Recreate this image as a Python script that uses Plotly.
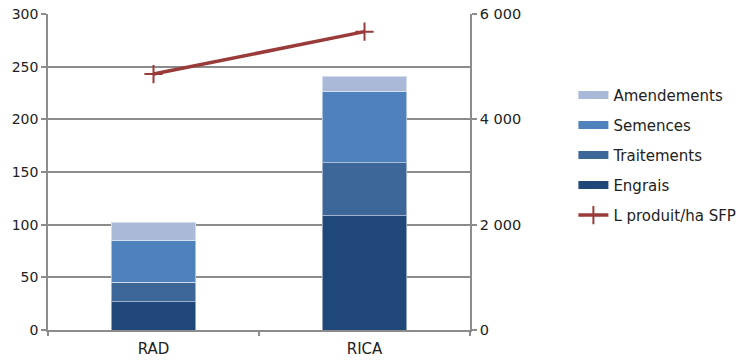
import plotly.graph_objects as go

categories = ["RAD", "RICA"]
engrais = [26.9, 108.5]
traitements = [18.4, 50.3]
semences = [40.1, 68.1]
amendements = [16.8, 14.1]
l_produit = [4860, 5665]

series = [
    ("Engrais", engrais, "#1F4878", 4),
    ("Traitements", traitements, "#3E6799", 3),
    ("Semences", semences, "#4F81BD", 2),
    ("Amendements", amendements, "#A9B9D7", 1),
]

font_family = "DejaVu Sans"
fig = go.Figure()
for name, vals, color, rank in series:
    fig.add_trace(go.Bar(
        x=categories, y=vals, name=name, marker_color=color,
        marker_line=dict(color="rgba(255,255,255,0.5)", width=1),
        showlegend=False,
    ))
    # legend entry drawn as a wide rectangle
    fig.add_trace(go.Scatter(
        x=[None], y=[None], name=name, mode="lines",
        line=dict(color=color, width=8),
        legendrank=rank, legendgroup=name, hoverinfo="skip",
    ))

fig.add_trace(go.Scatter(
    x=categories, y=l_produit, name="L produit/ha SFP", yaxis="y2",
    mode="lines+markers",
    line=dict(color="#993B3A", width=3.5),
    marker=dict(symbol="cross-thin", size=13, line=dict(color="#993B3A", width=2)),
    legendrank=5, legendgroup="line",
))

fig.update_layout(
    width=743, height=361,
    margin=dict(l=48, r=273, t=14, b=31, autoexpand=False),
    paper_bgcolor="white", plot_bgcolor="white",
    barmode="stack", bargap=0.6,
    separators=", ",
    font=dict(family=font_family, size=13, color="#222222"),
    showlegend=True,
    legend=dict(
        x=1.245, y=0.795, xanchor="left", yanchor="top",
        traceorder="grouped", tracegroupgap=7.5,
        font=dict(family=font_family, size=15, color="#222222"),
        itemwidth=30,
    ),
    xaxis=dict(
        type="category", range=[-0.5, 1.5], tickson="boundaries",
        ticks="outside", ticklen=4, tickcolor="#8C8C8C", tickwidth=1.5,
        showline=True, linecolor="#8C8C8C", linewidth=1.5,
        showgrid=False, tickfont=dict(size=15), automargin=False,
        ticklabelstandoff=4,
    ),
    yaxis=dict(
        range=[0, 300], dtick=50, ticks="outside", ticklen=5,
        tickcolor="#8C8C8C", tickwidth=1.5,
        showline=True, linecolor="#8C8C8C", linewidth=1.5,
        showgrid=True, gridcolor="#8C8C8C", gridwidth=1.5,
        zeroline=False, tickfont=dict(size=14), automargin=False,
    ),
    yaxis2=dict(
        range=[0, 6000], dtick=2000, overlaying="y", side="right",
        ticks="outside", ticklen=5, tickcolor="#8C8C8C", tickwidth=1.5,
        showline=True, linecolor="#8C8C8C", linewidth=1.5,
        showgrid=False, zeroline=False, tickformat=",d",
        tickfont=dict(size=14.5), automargin=False,
    ),
)

fig.write_html("out.html")
